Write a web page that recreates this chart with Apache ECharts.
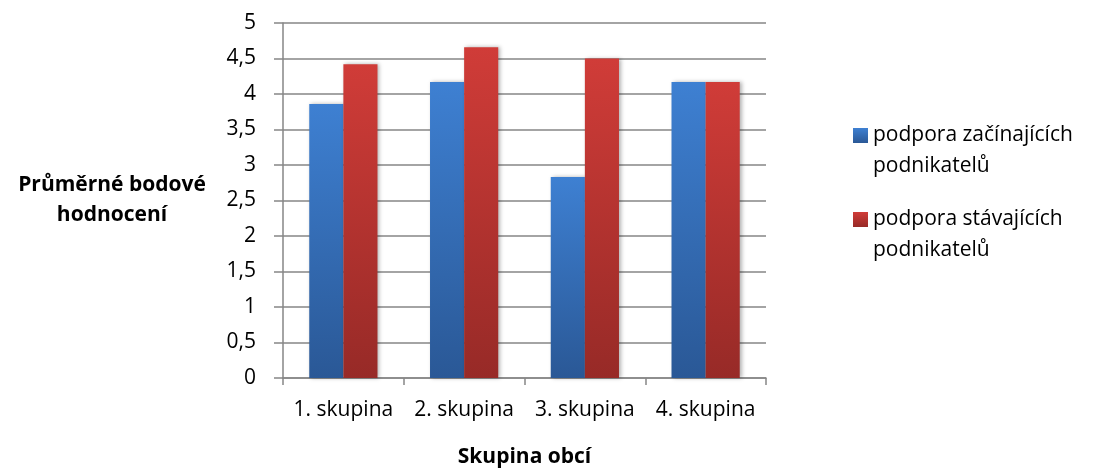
<!DOCTYPE html>
<html><head><meta charset="utf-8">
<script src="https://cdn.jsdelivr.net/npm/echarts@6/dist/echarts.min.js"></script>
<style>html,body{margin:0;padding:0;background:#fff}#c{width:1095px;height:468px}</style>
</head><body><div id="c"></div>
<script>
const categories = ['1. skupina', '2. skupina', '3. skupina', '4. skupina'];
const seriesNames = ['podpora začínajících podnikatelů', 'podpora stávajících podnikatelů'];
const zacinajici = [3.86, 4.17, 2.83, 4.17];
const stavajici = [4.42, 4.66, 4.5, 4.17];
const yTicks = [0, 0.5, 1, 1.5, 2, 2.5, 3, 3.5, 4, 4.5, 5];

const font = '"Open Sans", "Noto Sans", sans-serif';
const chart = echarts.init(document.getElementById('c'));
function grad(top, bottom) {
  return new echarts.graphic.LinearGradient(0, 0, 0, 1, [{offset: 0, color: top}, {offset: 1, color: bottom}]);
}
chart.setOption({
  animation: false,
  grid: {left: 283, right: 329, top: 23, bottom: 90, outerBoundsMode: 'none', containLabel: false},
  legend: {
    orient: 'vertical', left: 848, top: 84,
    itemWidth: 15, itemHeight: 15, itemGap: -9,
    icon: 'rect',
    textStyle: {fontFamily: font, fontSize: 21, color: '#000', lineHeight: 31},
    formatter: function (n) { return '\u00a0\n' + n.replace(' podnikatelů', '\npodnikatelů'); },
    data: seriesNames
  },
  xAxis: {
    type: 'category', data: categories,
    name: 'Skupina obcí', nameLocation: 'middle', nameGap: 69,
    nameTextStyle: {fontFamily: font, fontSize: 21, fontWeight: 'bold', color: '#000'},
    axisLine: {lineStyle: {color: '#868686', width: 1.5}},
    axisTick: {show: true, interval: 0, length: 7, lineStyle: {color: '#868686', width: 1.5}},
    axisLabel: {fontFamily: font, fontSize: 21, color: '#000', margin: 22, interval: 0}
  },
  yAxis: {
    type: 'value', min: 0, max: 5, interval: 0.5,
    name: 'Průměrné bodové\nhodnocení', nameLocation: 'middle', nameGap: 171, nameRotate: 0,
    nameTextStyle: {fontFamily: font, fontSize: 21, fontWeight: 'bold', color: '#000', lineHeight: 30, align: 'center'},
    axisLine: {show: true, lineStyle: {color: '#868686', width: 1.5}},
    axisTick: {show: true, length: 9, lineStyle: {color: '#868686', width: 1.5}},
    splitLine: {lineStyle: {color: '#868686', width: 1.5}},
    axisLabel: {fontFamily: font, fontSize: 21, color: '#000', margin: 27,
      formatter: function (v) { return yTicks.indexOf(v) >= 0 ? String(v).replace('.', ',') : ''; }}
  },
  series: [
    {name: seriesNames[0], type: 'bar', data: zacinajici, barGap: '0%', barCategoryGap: '43.5%',
      itemStyle: {color: grad('#3e80d2', '#2a5896'), shadowBlur: 4, shadowColor: 'rgba(0,0,0,0.3)', shadowOffsetX: 2}},
    {name: seriesNames[1], type: 'bar', data: stavajici, barGap: '0%', barCategoryGap: '43.5%',
      itemStyle: {color: grad('#d03c38', '#972a27'), shadowBlur: 4, shadowColor: 'rgba(0,0,0,0.3)', shadowOffsetX: 2}}
  ]
});
</script></body></html>
